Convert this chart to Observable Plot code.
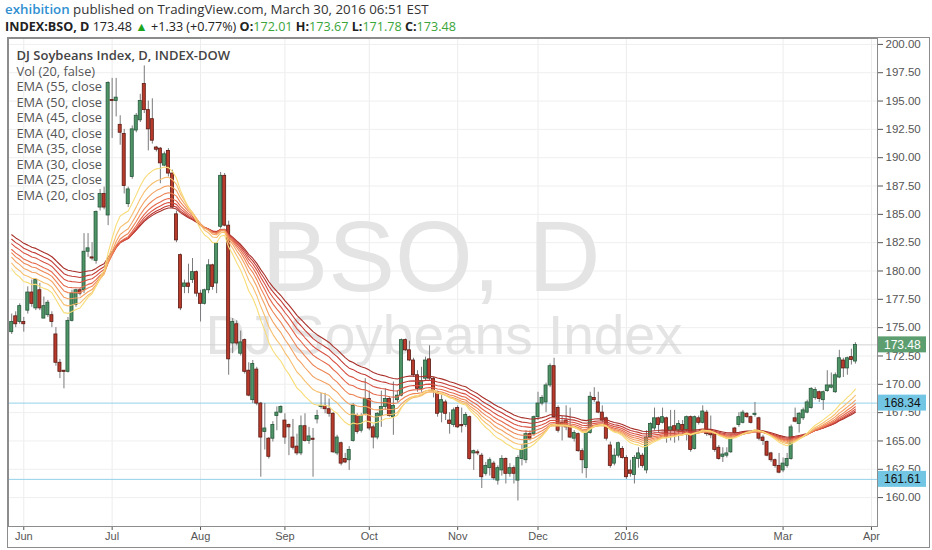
<!DOCTYPE html>
<html><head><meta charset="utf-8">
<script src="https://cdn.jsdelivr.net/npm/d3@7"></script>
<script src="https://cdn.jsdelivr.net/npm/@observablehq/plot@0.6"></script>
<style>
body{margin:0;background:#fff;width:932px;height:550px;overflow:hidden;position:relative;font-family:"Open Sans",sans-serif;}
#hdr1{position:absolute;left:5px;top:0px;font-size:13.3px;line-height:19px;color:#333;white-space:nowrap;}
#hdr2{position:absolute;left:5px;top:18px;font-size:12.6px;line-height:18px;color:#222;white-space:nowrap;}
#hdr2 .g{color:#3aa53a;}
#box{position:absolute;left:7px;top:37px;width:921px;height:509px;border:1px solid #8c8c8c;}
#chart{position:absolute;left:0;top:37px;}
</style></head><body>
<div id="hdr1"></div>
<div id="hdr2"></div>
<div id="box"></div>
<div id="chart"></div>
<script>
// ---- data (daily candles, May 27 2015 .. Mar 29 2016) ----
const open = [174.6,176.0,175.5,175.5,176.5,178.1,176.7,178.3,175.8,176.1,176.1,174.4,171.9,171.2,171.1,175.6,177.0,178.3,178.3,181.7,
181.2,180.9,185.6,186.8,184.9,195.1,195.0,192.9,192.1,185.9,188.3,192.4,193.3,196.5,194.2,193.4,190.9,190.8,189.3,190.6,
188.6,185.0,181.4,178.6,178.9,179.2,179.9,178.0,177.1,178.3,180.5,178.9,183.9,188.4,184.0,173.6,175.3,172.7,173.9,171.2,
168.6,171.3,168.3,165.8,165.2,165.2,167.2,167.5,166.8,166.4,165.3,164.5,163.9,166.3,165.0,165.2,166.9,168.0,168.1,167.8,
167.4,163.9,164.8,163.4,163.3,165.0,167.2,165.9,167.4,168.7,166.2,165.3,167.2,168.0,168.7,167.1,168.6,169.0,173.9,173.0,
172.1,170.8,169.6,170.5,172.2,170.5,169.3,167.5,168.4,166.8,166.4,167.9,166.4,166.4,167.1,163.9,164.0,163.7,162.1,162.6,
163.0,161.5,162.4,163.4,162.1,162.6,161.5,163.4,163.3,165.6,165.6,167.1,168.3,168.4,169.9,171.6,167.9,166.6,166.8,166.3,
165.2,165.6,164.1,162.6,165.7,168.8,168.4,167.5,167.0,164.6,163.0,163.7,164.3,163.5,162.4,162.0,163.4,163.7,162.4,165.3,
166.1,167.0,166.6,167.0,165.9,166.3,165.9,166.4,165.9,167.1,164.3,167.0,166.6,167.5,165.9,165.6,164.4,163.6,163.7,164.0,
166.1,166.4,166.6,167.4,167.1,167.3,167.0,165.3,164.9,163.9,163.3,162.8,162.4,162.8,163.4,167.0,166.5,167.0,167.5,167.9,
168.8,169.3,168.6,169.4,169.7,169.3,170.6,172.1,171.4,172.4,172.01];
const high = [176.2,176.4,177.1,175.9,178.6,179.2,179.3,178.9,177.7,177.4,176.4,175.0,172.2,171.2,175.9,178.3,178.4,178.5,183.3,183.3,
182.5,185.3,187.2,187.4,196.7,197.0,197.0,193.7,192.5,187.4,192.8,193.9,195.6,198.1,195.0,195.2,191.0,190.9,190.5,190.8,
188.9,185.3,181.5,179.2,180.6,181.1,180.0,178.3,178.4,181.0,180.6,182.5,188.7,188.6,184.4,175.8,175.6,174.7,174.0,171.9,
172.1,171.5,168.4,168.3,165.3,166.7,168.0,168.1,167.4,166.5,166.9,165.6,167.2,167.4,166.2,166.1,167.7,169.2,169.2,168.7,
167.5,165.5,164.9,163.9,164.5,168.3,167.4,167.4,170.5,169.4,166.4,167.5,169.4,169.6,168.9,170.2,169.4,174.0,174.0,173.8,
172.3,171.2,171.5,172.4,173.4,170.6,169.4,169.0,168.6,167.5,167.9,168.1,167.9,167.5,167.2,164.2,164.2,163.9,163.1,163.5,
163.2,162.8,163.7,163.5,163.0,162.8,163.7,164.6,165.9,165.9,167.2,169.3,169.0,170.1,171.8,172.3,168.1,167.2,168.1,167.9,
165.9,165.7,164.3,166.0,169.3,169.7,169.3,168.1,167.1,164.9,164.3,164.9,164.5,163.7,163.3,163.7,164.4,163.9,165.9,166.6,
167.9,167.1,167.9,167.1,167.7,167.7,166.8,166.8,167.2,167.2,167.2,167.2,168.1,167.7,167.2,165.7,164.6,164.4,164.4,165.5,
166.2,167.5,167.7,167.5,167.2,168.4,167.1,165.5,165.0,164.0,163.4,163.9,163.5,163.9,166.4,167.9,167.5,167.9,168.6,169.7,
169.7,169.4,169.4,171.2,171.0,171.0,173.0,172.3,172.4,173.1,173.67];
const low = [174.4,175.0,175.3,174.6,176.2,176.8,176.5,176.5,175.8,175.9,175.0,171.6,170.5,169.6,171.0,175.5,176.8,177.8,178.0,181.2,
180.9,180.6,185.3,185.4,184.0,191.7,193.6,191.1,186.8,185.6,188.1,192.2,193.1,193.9,190.6,191.2,190.5,187.7,189.2,188.3,
185.5,182.5,176.5,178.0,178.0,178.9,177.7,175.5,177.0,178.0,178.3,178.0,183.7,183.9,170.8,172.7,173.4,172.5,170.9,168.9,
168.3,168.1,161.8,164.2,163.4,164.9,165.9,167.4,164.7,163.7,164.2,163.7,163.7,164.9,164.7,161.8,166.5,167.8,167.4,167.1,
163.9,163.7,162.8,163.0,162.4,164.9,165.6,165.7,167.2,165.9,164.3,165.1,166.2,167.7,167.1,165.5,168.4,168.9,172.9,172.0,
170.6,169.3,169.3,170.3,170.3,168.8,167.1,166.6,166.8,165.6,166.2,166.1,165.7,166.2,163.3,162.4,163.7,160.8,161.9,161.9,
161.5,161.1,161.9,161.2,161.8,161.2,159.7,162.8,163.0,165.0,165.4,166.8,168.1,167.5,169.7,167.0,165.7,165.0,165.9,165.2,
164.9,164.0,162.1,161.7,165.6,168.4,167.4,166.6,165.0,162.6,162.8,163.5,163.4,161.6,161.8,161.2,162.6,162.6,162.1,165.2,
165.9,165.7,166.5,164.8,165.0,164.8,165.0,165.5,165.0,164.0,164.2,166.4,166.5,165.4,165.2,164.0,163.3,163.1,163.5,163.9,
165.6,166.2,166.5,167.0,166.5,167.1,165.0,164.6,163.6,163.1,162.6,162.1,162.2,162.6,163.3,166.6,165.7,166.8,167.4,167.8,
168.6,168.4,167.7,169.3,169.6,169.2,170.5,170.6,170.8,171.7,171.78];
const close = [175.5,175.3,176.9,175.3,178.1,177.1,179.2,176.7,176.9,177.2,175.5,171.9,171.1,171.1,175.6,178.0,178.3,178.0,181.7,182.0,
181.1,185.2,186.8,185.6,196.6,195.0,195.3,192.2,187.5,187.2,192.5,193.7,195.0,194.2,192.5,191.5,190.7,189.5,190.3,188.6,
185.6,182.7,176.7,178.9,178.6,179.9,178.0,177.1,178.3,180.5,178.6,182.4,188.4,184.0,172.2,175.5,173.6,173.7,171.1,169.0,
171.8,168.3,165.3,166.1,163.6,166.4,167.5,168.0,165.3,166.2,164.4,163.9,166.3,165.0,165.4,165.1,167.2,168.1,167.8,167.4,
164.0,165.3,163.0,163.1,164.2,168.1,165.8,167.2,168.7,166.1,165.3,167.4,168.0,168.7,167.2,168.1,169.0,173.9,173.0,172.1,
170.8,169.6,170.3,172.1,170.5,169.4,167.4,168.6,167.4,166.5,167.7,166.2,166.3,167.3,163.4,164.1,163.9,161.8,162.8,163.3,
161.7,162.6,163.4,162.1,162.6,162.1,163.5,164.2,165.6,165.2,167.1,168.3,168.8,169.9,171.6,167.1,165.9,166.4,166.2,165.3,
165.7,164.1,163.3,165.7,168.9,168.6,167.5,166.8,165.2,162.8,163.7,164.8,163.5,161.8,162.1,163.5,163.9,162.8,165.3,166.5,
167.0,166.4,167.1,165.3,166.2,165.9,166.5,165.9,167.1,164.2,167.1,166.6,167.6,165.6,165.5,164.2,163.4,163.8,163.9,165.3,
165.7,167.1,167.5,167.1,166.6,167.4,165.2,165.0,163.7,163.3,162.8,162.2,163.0,163.4,166.2,166.7,167.4,167.7,168.4,169.6,
169.5,168.7,169.3,169.9,169.9,170.8,172.3,171.4,172.3,172.15,173.48];

// EMA settings (periods) and the values the lines start from at the left edge
const emaPeriods = [55, 50, 45, 40, 35, 30, 25, 20];
const emaStart = [183.2, 182.8, 182.4, 181.9, 181.6, 181.2, 180.7, 180.2];
const emaColors = ["#a8302a", "#c23b35", "#d85243", "#e56a4d", "#ed8556", "#f3a262", "#f7bf6e", "#f8dc78"];

// axis labels
const monthIdx = [4, 26, 48, 69, 90, 112, 132, 154, 193, 215];
const monthLabels = ["Jun", "Jul", "Aug", "Sep", "Oct", "Nov", "Dec", "2016", "Mar", "Apr"];
const yTicks = d3.range(160, 200.01, 2.5);
const levels = [168.34, 161.61];
const legendTitle = "DJ Soybeans Index, D, INDEX-DOW";
const legendLines = ["Vol (20, false)", "EMA (55, close", "EMA (50, close", "EMA (45, close", "EMA (40, close",
  "EMA (35, close", "EMA (30, close", "EMA (25, close", "EMA (20, clos"];

// ---- header ----
const N = close.length;
const lastC = close[N - 1], prevC = close[N - 2];
const chg = lastC - prevC;
document.getElementById("hdr1").innerHTML =
  '<span style="color:#2f8fd1;font-weight:600">exhibition</span> published on TradingView.com, March 30, 2016 06:51 EST';
document.getElementById("hdr2").innerHTML =
  `<b>INDEX:BSO, D</b> ${lastC.toFixed(2)} <span style="color:#1ea51e">&#9650;</span> +${chg.toFixed(2)} (+${(chg / prevC * 100).toFixed(2)}%) ` +
  `<b>O:</b><span class="g">${open[N-1].toFixed(2)}</span> <b>H:</b><span class="g">${high[N-1].toFixed(2)}</span> ` +
  `<b>L:</b><span class="g">${low[N-1].toFixed(2)}</span> <b>C:</b><span class="g">${lastC.toFixed(2)}</span>`;

// ---- derived tables ----
const bars = close.map((c, i) => ({x: i + 1, o: open[i], h: high[i], l: low[i], c}));
const up = bars.filter(d => d.c >= d.o), down = bars.filter(d => d.c < d.o);
const emaLines = emaPeriods.map((p, k) => {
  const a = 2 / (p + 1); let e = emaStart[k];
  return close.map((c, i) => { if (i > 0) e = e + a * (c - e); return {x: i + 1, v: e}; });
});

const chart = Plot.plot({
  width: 932, height: 513,
  marginLeft: 8, marginRight: 55, marginTop: 1, marginBottom: 24,
  x: {domain: [0.2, 216.5], label: null},
  y: {domain: [157.45, 200.52], label: null},
  style: {fontFamily: "'Liberation Sans', Arial, sans-serif", fontSize: "11px", color: "#555", background: "transparent", overflow: "visible"},
  marks: [
    Plot.gridX(monthIdx, {stroke: "#ececec", strokeOpacity: 1}),
    Plot.gridY(yTicks, {stroke: "#efefef", strokeOpacity: 1}),
    Plot.text(["BSO, D"], {frameAnchor: "middle", dx: -12, dy: -24, fontSize: 100, fill: "#e4e4e4", fontFamily: "'Liberation Sans', Arial"}),
    Plot.text(["DJ Soybeans Index"], {frameAnchor: "middle", dx: 1, dy: 54, fontSize: 55, fill: "#e4e4e4", fontFamily: "'Liberation Sans', Arial"}),
    Plot.text([legendTitle], {frameAnchor: "top-left", dx: 8, dy: 17, lineAnchor: "middle", textAnchor: "start", fontSize: 13, fontWeight: 600, fill: "#444", fontFamily: "'Open Sans'"}),
    ...legendLines.map((t, k) => Plot.text([t], {frameAnchor: "top-left", dx: 8, dy: 33 + 15.55 * k, lineAnchor: "middle", textAnchor: "start", fontSize: 12.8, fill: "#555", fontFamily: "'Open Sans'"})),
    Plot.ruleY([lastC], {stroke: "#d2d2d2"}),
    Plot.ruleY(levels, {stroke: "#94d0ea"}),
    Plot.ruleX(bars, {x: "x", y1: "l", y2: "h", stroke: "#7a7a7c", strokeWidth: 1}),
    Plot.rect(up, {x1: d => d.x - 0.38, x2: d => d.x + 0.38, y1: "o", y2: "c", fill: "#4f9467", stroke: "#25573a", strokeWidth: 0.8}),
    Plot.rect(down, {x1: d => d.x - 0.38, x2: d => d.x + 0.38, y1: "o", y2: "c", fill: "#b83a2b", stroke: "#5b1a13", strokeWidth: 0.8}),
    ...emaLines.map((ln, k) => Plot.line(ln, {x: "x", y: "v", stroke: emaColors[k], strokeWidth: 1.1})),
    Plot.axisX({ticks: monthIdx, tickFormat: d => monthLabels[monthIdx.indexOf(d)], tickSize: 4, tickPadding: 2, fontSize: 11, fill: "#555"}),
    Plot.axisY({anchor: "right", ticks: yTicks, tickFormat: d => d.toFixed(2), tickSize: 5, tickPadding: 3, fontSize: 11.5, fill: "#555"}),
    Plot.frame({stroke: "#8c8c8c"})
  ]
});
document.getElementById("chart").appendChild(chart);

// price tags on the right axis, positioned with the plot's own y scale
const ys = chart.scale("y");
const svg = d3.select(chart);
const tagX = 932 - 55 + 1;
[{v: lastC, bg: "#5d9e70", fg: "#fff"}, {v: levels[0], bg: "#72c6e4", fg: "#111"}, {v: levels[1], bg: "#72c6e4", fg: "#111"}].forEach(t => {
  const yy = ys.apply(t.v);
  const g = svg.append("g");
  g.append("rect").attr("x", tagX).attr("y", yy - 8).attr("width", 48).attr("height", 16).attr("fill", t.bg);
  g.append("text").attr("x", tagX + 6).attr("y", yy).attr("dy", "0.35em").attr("fill", t.fg)
    .attr("text-anchor", "start").attr("font-size", 12).attr("font-family", "'Liberation Sans', Arial").text(t.v.toFixed(2));
});
</script>
</body></html>
